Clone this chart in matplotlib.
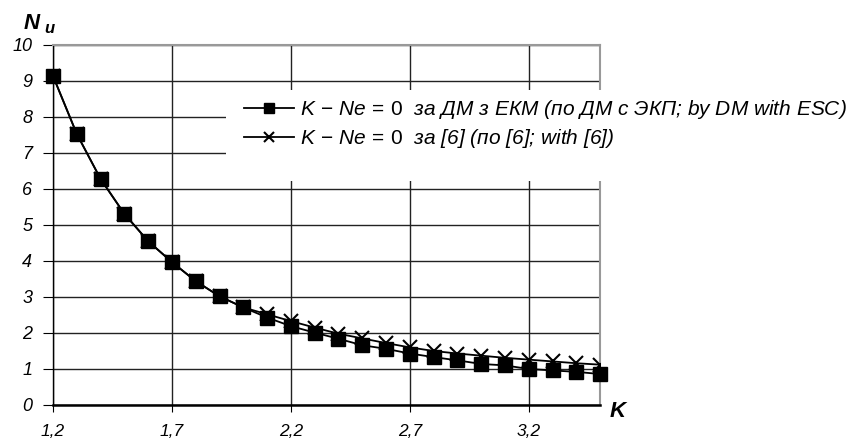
import numpy as np
import matplotlib
matplotlib.use("Agg")
import matplotlib.pyplot as plt
from matplotlib.patches import Rectangle

plt.rcParams['font.family'] = ['Liberation Sans', 'DejaVu Sans']
plt.rcParams['mathtext.fontset'] = 'custom'
plt.rcParams['mathtext.it'] = 'Liberation Sans:italic'
plt.rcParams['mathtext.rm'] = 'Liberation Sans'

# ==========================================
# data
# ==========================================
k_vals = [1.2, 1.3, 1.4, 1.5, 1.6, 1.7, 1.8, 1.9, 2.0, 2.1, 2.2, 2.3,
          2.4, 2.5, 2.6, 2.7, 2.8, 2.9, 3.0, 3.1, 3.2, 3.3, 3.4, 3.5]
nu_dm = [9.14, 7.53, 6.28, 5.31, 4.55, 3.97, 3.44, 3.02, 2.71, 2.43, 2.19, 2.01,
         1.84, 1.66, 1.56, 1.43, 1.33, 1.24, 1.14, 1.10, 1.00, 0.96, 0.92, 0.86]
nu_ref6 = [9.14, 7.53, 6.28, 5.31, 4.55, 3.97, 3.44, 3.02, 2.71, 2.52, 2.33, 2.15,
           1.98, 1.85, 1.72, 1.60, 1.50, 1.43, 1.37, 1.31, 1.26, 1.21, 1.16, 1.12]

x_ticks = [1.2, 1.7, 2.2, 2.7, 3.2]
x_ticklabels = ['1,2', '1,7', '2,2', '2,7', '3,2']
y_ticks = list(range(0, 11))

label_dm = r'$K\,-\,Ne\,=\,0$  за ДМ з ЕКМ (по ДМ с ЭКП; by DM with ESC)'
label_ref6 = r'$K\,-\,Ne\,=\,0$  за [6] (по [6]; with [6])'

# ==========================================
# plot
# ==========================================
fig = plt.figure(figsize=(8.63, 4.45), dpi=100)
ax = fig.add_axes([0.0614, 0.0899, 0.634, 0.809])

ax.plot(k_vals, nu_ref6, color='black', linewidth=1.3, marker='x',
        markersize=10, markeredgewidth=1.5, label=label_ref6, zorder=3)
ax.plot(k_vals, nu_dm, color='black', linewidth=1.3, marker='s',
        markersize=9.5, label=label_dm, zorder=4, clip_on=False)

ax.set_xlim(1.2, 3.5)
ax.set_ylim(0, 10)
ax.set_xticks(x_ticks)
ax.set_xticklabels(x_ticklabels, fontstyle='italic', fontsize=12.5)
ax.set_yticks(y_ticks)
ax.set_yticklabels([str(v) for v in y_ticks], fontstyle='italic', fontsize=13)
ax.tick_params(axis='x', direction='out', length=5, pad=9, color='black')
ax.tick_params(axis='y', direction='out', length=7, pad=8, color='black')

ax.grid(True, color='#222222', linewidth=1.0)
ax.set_axisbelow(True)
for side in ['top', 'right']:
    ax.spines[side].set_color('#999999')
    ax.spines[side].set_linewidth(1.5)
ax.spines['left'].set_linewidth(1.0)
ax.spines['bottom'].set_linewidth(1.8)

# white area behind the legend (hides grid lines and right spine there)
ax.add_patch(Rectangle((0.262, 0.593), 0.74, 0.205, transform=fig.transFigure,
                       facecolor='white', edgecolor='none', zorder=2.8,
                       clip_on=False))

fig.text(0.706, 0.062, 'K', fontsize=16, fontweight='bold', fontstyle='italic')
fig.text(0.027, 0.935, 'N', fontsize=16, fontweight='bold', fontstyle='italic')
fig.text(0.051, 0.925, 'u', fontsize=12, fontweight='bold', fontstyle='italic')

handles, labels = ax.get_legend_handles_labels()
leg = ax.legend(handles[::-1], labels[::-1], loc='upper left',
                bbox_to_anchor=(0.262, 0.82), bbox_transform=fig.transFigure,
                prop={'style': 'italic', 'size': 15}, frameon=False,
                handlelength=2.4, handletextpad=0.3,
                borderpad=0.35, labelspacing=0.3, markerscale=0.75)
leg.set_zorder(10)

plt.savefig('out.png', dpi=100)
